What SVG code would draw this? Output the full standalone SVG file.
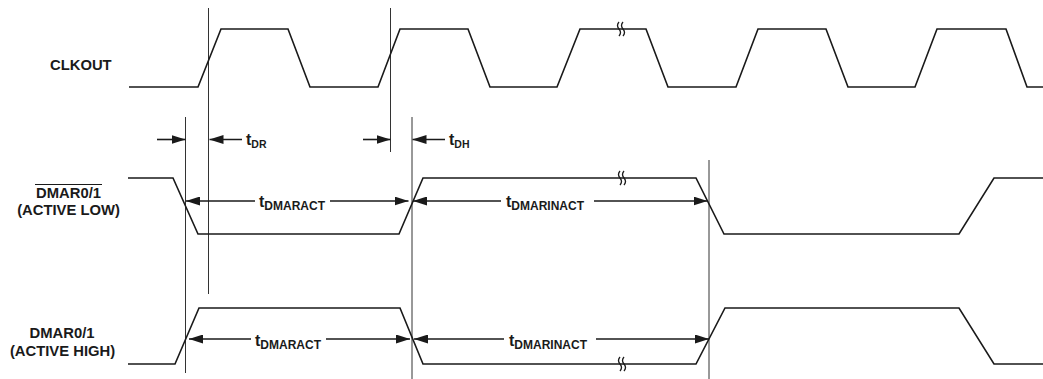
<svg xmlns="http://www.w3.org/2000/svg" width="1043" height="379" viewBox="0 0 1043 379">
<style>
.sig{fill:none;stroke:#1a1a1a;stroke-width:1.6;stroke-linejoin:miter}
.guide{stroke:#333;stroke-width:1;fill:none}
.dim{stroke:#1a1a1a;stroke-width:1.6;fill:none;marker-end:url(#ah)}
.brk{fill:none;stroke:#1a1a1a;stroke-width:1.3}
.lbl{font-family:"Liberation Sans",Arial,sans-serif;font-weight:bold;font-size:14.8px;fill:#1a1a1a}
.t{font-family:"Liberation Sans",Arial,sans-serif;font-weight:bold;font-size:16px;fill:#1a1a1a}
.sub{font-size:12px}
.sub2{font-size:10.5px}
</style>
<defs>
<marker id="ah" viewBox="0 0 14 9" refX="14" refY="4.5" markerWidth="14" markerHeight="9" markerUnits="userSpaceOnUse" orient="auto">
<path d="M0,0 L14,4.5 L0,9 z" fill="#1a1a1a"/>
</marker>
<g id="brkmark">
<path class="brk" d="M-2,-7 q-3,3.5 0,7 t0,7"/>
<path class="brk" d="M2,-7 q-3,3.5 0,7 t0,7"/>
</g>
</defs>

<g id="guides">
<line class="guide" x1="208.5" y1="8" x2="208.5" y2="294"/>
<line class="guide" x1="390.5" y1="8" x2="390.5" y2="152"/>
<line class="guide" x1="185.5" y1="117" x2="185.5" y2="373"/>
<line class="guide" x1="412" y1="117" x2="412" y2="379"/>
<line class="guide" x1="709" y1="160" x2="709" y2="379"/>
</g>

<g id="clkout">
<text class="lbl" x="50" y="69.5">CLKOUT</text>
<path class="sig" d="M129,87 L198,87 L221,29 L288,29 L310,87 L378,87 L400,29 L468,29 L490,87 L557,87 L580,29 L646,29 L668,87 L736,87 L758,29 L826,29 L848,87 L915,87 L937,29 L1006,29 L1027,87 L1043,87"/>
<use href="#brkmark" x="621" y="29"/>
</g>

<g id="dmar-low">
<text class="lbl" x="68.5" y="197.5" text-anchor="middle">DMAR0/1</text>
<line x1="35" y1="184.5" x2="102" y2="184.5" stroke="#1a1a1a" stroke-width="1.2"/>
<text class="lbl" x="68.5" y="215" text-anchor="middle">(ACTIVE LOW)</text>
<path class="sig" d="M128,178 L173,178 L198,234 L399,234 L423,178 L696,178 L724,234 L959,234 L994,178 L1043,178"/>
<use href="#brkmark" x="622" y="178"/>
</g>

<g id="dmar-high">
<text class="lbl" x="62" y="338" text-anchor="middle">DMAR0/1</text>
<text class="lbl" x="62.5" y="356" text-anchor="middle">(ACTIVE HIGH)</text>
<path class="sig" d="M128,364 L175,364 L199,308 L400,308 L423,364 L696,364 L725,308 L959,308 L994,364 L1043,364"/>
<use href="#brkmark" x="622" y="364"/>
</g>

<g id="connectors">
<line class="dim" x1="157" y1="139.5" x2="185.5" y2="139.5"/>
<line class="dim" x1="242" y1="139.5" x2="209.5" y2="139.5"/>
<line class="dim" x1="363" y1="139.5" x2="390.5" y2="139.5"/>
<line class="dim" x1="445" y1="139.5" x2="412.5" y2="139.5"/>

<line class="dim" x1="255" y1="201" x2="186" y2="201"/>
<line class="dim" x1="330" y1="201" x2="408.5" y2="201"/>
<line class="dim" x1="501" y1="201" x2="413" y2="201"/>
<line class="dim" x1="594" y1="201" x2="707.5" y2="201"/>

<line class="dim" x1="251" y1="339" x2="189" y2="339"/>
<line class="dim" x1="326" y1="339" x2="410" y2="339"/>
<line class="dim" x1="504" y1="339" x2="414" y2="339"/>
<line class="dim" x1="596" y1="339" x2="709" y2="339"/>
</g>

<g id="labels">
<text class="t" x="246" y="144.5">t<tspan class="sub2" dy="3">DR</tspan></text>
<text class="t" x="449" y="144.5">t<tspan class="sub2" dy="3">DH</tspan></text>
<text class="t" x="259" y="207">t<tspan class="sub" dy="2.5">DMARACT</tspan></text>
<text class="t" x="506" y="207">t<tspan class="sub" dy="2.5">DMARINACT</tspan></text>
<text class="t" x="255" y="346">t<tspan class="sub" dy="2.5">DMARACT</tspan></text>
<text class="t" x="509" y="346">t<tspan class="sub" dy="2.5">DMARINACT</tspan></text>
</g>
</svg>
